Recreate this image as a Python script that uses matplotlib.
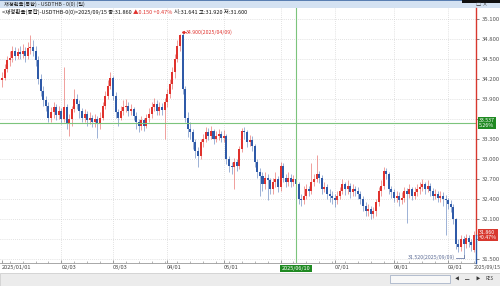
import numpy as np
import pandas as pd
import matplotlib
matplotlib.use('Agg')
from matplotlib import pyplot as plt
from matplotlib.patches import Rectangle

plt.rcParams['font.family'] = ['Noto Sans CJK KR', 'DejaVu Sans']

# ---- data (USD/THB daily) ----
first_open = 34.18
last_open = 31.641

closes = [34.22, 34.35, 34.48, 34.52, 34.62, 34.55, 34.60, 34.58, 34.62, 34.55,
          34.66, 34.68, 34.62, 34.48, 34.20, 34.02, 33.88, 33.80, 33.62, 33.70,
          33.78, 33.66, 33.72, 33.60, 33.78, 33.52, 33.60, 33.75, 33.90, 33.82,
          33.72, 33.62, 33.68, 33.58, 33.62, 33.55, 33.60, 33.52, 33.62, 33.80,
          33.95, 34.10, 34.22, 33.95, 33.70, 33.62, 33.72, 33.78, 33.80, 33.72,
          33.75, 33.65, 33.55, 33.50, 33.58, 33.50, 33.62, 33.68, 33.78, 33.82,
          33.72, 33.78, 33.74, 33.85, 33.98, 34.12, 34.30, 34.50, 34.70, 34.86,
          34.05, 33.62, 33.45, 33.40, 33.25, 33.12, 33.05, 33.25, 33.30, 33.40,
          33.35, 33.42, 33.30, 33.35, 33.38, 33.32, 33.35, 33.00, 32.90, 32.88,
          32.95, 32.90, 33.15, 33.42, 33.40, 33.25, 33.28, 33.20, 32.95, 32.80,
          32.75, 32.62, 32.72, 32.68, 32.55, 32.66, 32.70, 32.58, 32.90, 32.72,
          32.65, 32.72, 32.66, 32.70, 32.62, 32.40, 32.38, 32.45, 32.55, 32.52,
          32.65, 32.70, 32.78, 32.72, 32.55, 32.58, 32.48, 32.45, 32.42, 32.38,
          32.45, 32.52, 32.62, 32.55, 32.60, 32.50, 32.55, 32.52, 32.48, 32.40,
          32.30, 32.22, 32.25, 32.18, 32.22, 32.35, 32.52, 32.60, 32.82, 32.78,
          32.55, 32.50, 32.42, 32.45, 32.38, 32.42, 32.52, 32.48, 32.55, 32.45,
          32.50, 32.55, 32.58, 32.62, 32.55, 32.60, 32.52, 32.45, 32.48, 32.42,
          32.45, 32.40, 32.38, 32.32, 32.28, 32.10, 31.72, 31.68, 31.80, 31.72,
          31.82, 31.75, 31.71, 31.86]

highs = [34.30, 34.42, 34.55, 34.62, 34.70, 34.68, 34.66, 34.70, 34.72, 34.68,
         34.75, 34.86, 34.78, 34.70, 34.55, 34.28, 34.10, 33.95, 33.85, 33.78,
         33.86, 33.82, 33.80, 33.76, 34.38, 33.82, 33.68, 33.80, 34.05, 33.98,
         33.88, 33.76, 33.75, 33.72, 33.70, 33.66, 33.68, 33.65, 33.70, 33.86,
         34.02, 34.18, 34.30, 34.25, 34.00, 33.75, 33.80, 33.88, 33.90, 33.85,
         33.82, 33.78, 33.70, 33.60, 33.64, 33.62, 33.68, 33.76, 33.86, 33.92,
         33.88, 33.86, 33.84, 33.92, 34.05, 34.20, 34.38, 34.58, 34.78, 34.88,
         34.90, 34.10, 33.70, 33.55, 33.45, 33.30, 33.18, 33.30, 33.38, 33.48,
         33.46, 33.50, 33.45, 33.42, 33.45, 33.42, 33.43, 33.38, 33.05, 32.96,
         33.02, 33.00, 33.20, 33.46, 33.48, 33.44, 33.36, 33.34, 33.22, 33.00,
         32.86, 32.80, 32.80, 32.78, 32.72, 32.72, 32.80, 32.74, 32.95, 32.94,
         32.78, 32.80, 32.78, 32.76, 32.74, 32.66, 32.48, 32.60, 32.62, 32.60,
         32.94, 32.78, 33.06, 32.82, 32.76, 32.66, 32.62, 32.55, 32.52, 32.48,
         32.52, 32.58, 32.70, 32.66, 32.68, 32.64, 32.62, 32.60, 32.58, 32.52,
         32.44, 32.35, 32.32, 32.30, 32.28, 32.40, 32.58, 32.68, 32.88, 32.86,
         32.80, 32.60, 32.55, 32.52, 32.50, 32.50, 32.58, 32.56, 32.62, 32.58,
         32.58, 32.62, 32.66, 32.70, 32.66, 32.68, 32.64, 32.56, 32.55, 32.52,
         32.52, 32.50, 32.46, 32.42, 32.38, 32.32, 32.12, 31.80, 31.86, 31.84,
         31.88, 31.86, 31.80, 31.92]

lows = [34.08, 34.18, 34.30, 34.40, 34.45, 34.48, 34.50, 34.50, 34.52, 34.45,
        34.50, 34.58, 34.55, 34.40, 34.12, 33.95, 33.80, 33.72, 33.55, 33.55,
        33.62, 33.58, 33.60, 33.52, 33.55, 33.45, 33.35, 33.50, 33.70, 33.75,
        33.62, 33.55, 33.55, 33.50, 33.52, 33.48, 33.48, 33.32, 33.45, 33.58,
        33.75, 33.90, 34.05, 33.88, 33.62, 33.50, 33.58, 33.66, 33.70, 33.65,
        33.66, 33.58, 33.45, 33.40, 33.44, 33.42, 33.46, 33.55, 33.62, 33.72,
        33.66, 33.66, 33.66, 33.30, 33.78, 33.92, 34.05, 34.22, 34.45, 34.62,
        33.98, 33.55, 33.33, 33.30, 33.15, 33.02, 32.88, 33.00, 33.18, 33.25,
        33.28, 33.30, 33.22, 33.25, 33.28, 33.25, 33.26, 32.92, 32.80, 32.78,
        32.55, 32.82, 32.85, 33.10, 33.30, 33.18, 33.20, 33.12, 32.88, 32.72,
        32.45, 32.52, 32.55, 32.38, 32.48, 32.48, 32.58, 32.50, 32.52, 32.65,
        32.58, 32.60, 32.58, 32.60, 32.55, 32.32, 32.30, 32.32, 32.40, 32.45,
        32.48, 32.60, 32.65, 32.64, 32.48, 32.50, 32.40, 32.36, 32.32, 32.28,
        32.32, 32.40, 32.48, 32.46, 32.48, 32.42, 32.44, 32.45, 32.40, 32.32,
        32.22, 32.15, 32.15, 32.10, 32.12, 32.15, 32.30, 32.45, 32.55, 32.70,
        32.48, 32.42, 32.35, 32.36, 32.30, 32.32, 32.36, 32.04, 32.42, 32.38,
        32.40, 32.45, 32.48, 32.52, 32.48, 32.50, 32.45, 32.38, 32.40, 32.35,
        32.36, 32.30, 31.86, 32.25, 32.20, 32.02, 31.65, 31.60, 31.62, 31.52,
        31.66, 31.68, 31.62, 31.60]

n = len(closes)
dates = pd.bdate_range('2025-01-01', periods=n)
opens = [first_open] + closes[:-1]
opens[-1] = last_open

# '06/02' sits under the crosshair date box, as in the original
month_labels = ['2025/01/01', '02/03', '03/03', '04/01', '05/01', '',
                '07/01', '08/01', '09/01']
y_ticks = [31.5, 31.8, 32.1, 32.4, 32.7, 33.0, 33.3, 33.6, 33.9, 34.2, 34.5, 34.8, 35.1]

cross_price = 33.537
cross_date = '2025/06/10'
peak_date = '2025/04/09'
low_date = '2025/09/09'

UP = '#e0322d'
DN = '#2f5aa8'

W, H = 500, 286
fig = plt.figure(figsize=(5.0, 2.86), dpi=100)
fig.patch.set_facecolor('white')

def fx(px):
    return px / W

def fy(py):
    return 1 - py / H

ax = fig.add_axes([fx(0), fy(263), fx(476), (263 - 8) / H])
ax.set_facecolor('white')

idx = np.arange(n)
o = np.array(opens)
c = np.array(closes)
hi = np.array(highs)
lo = np.array(lows)
up = c >= o
cols = np.where(up, UP, DN)

ax.vlines(idx, lo, hi, colors=cols, linewidth=0.6, alpha=0.55, zorder=2)
body_lo = np.minimum(o, c)
body_h = np.maximum(np.abs(c - o), 0.012)
ax.bar(idx, body_h, bottom=body_lo, width=0.78, color=cols, linewidth=0, zorder=3)

ax.set_xlim(-0.8, n - 0.2)
ax.set_ylim(31.44, 35.265)

# grid
for yv in y_ticks:
    ax.axhline(yv, color='#c8c8c8', linewidth=0.5, linestyle=(0, (1, 2)), zorder=0)
month_pos = []
for m in range(1, 10):
    pos = np.where(dates.month == m)[0][0]
    month_pos.append(pos)
for p in month_pos[1:]:
    ax.axvline(p, color='#c8c8c8', linewidth=0.5, linestyle=(0, (1, 2)), zorder=0)

for s in ['left', 'top', 'right']:
    ax.spines[s].set_visible(False)
ax.spines['bottom'].set_color('#9a9a9a')
ax.spines['bottom'].set_linewidth(0.6)
# right edge: red above the last price, blue below
yt = ax.get_yaxis_transform()
ax.plot([1, 1], [closes[-1], 35.265], transform=yt, color='#d8382e', linewidth=1.0,
        clip_on=False, zorder=5)
ax.plot([1, 1], [31.44, closes[-1]], transform=yt, color='#2f5aa8', linewidth=1.0,
        clip_on=False, zorder=5)

# labels hidden under the price boxes are left blank
ylabels = ['%.3f' % v for v in y_ticks]
ylabels[y_ticks.index(33.6)] = ''
ylabels[y_ticks.index(31.8)] = ''
ax.yaxis.tick_right()
ax.set_yticks(y_ticks)
ax.set_yticklabels(ylabels, fontsize=4.3, color='#333333')
ax.tick_params(axis='y', length=2, width=0.5, pad=2, colors='#555555')

ax.set_xticks(month_pos)
ax.set_xticklabels(month_labels, fontsize=4.1, color='#444444', ha='left')
ax.set_xticks(np.where(dates.dayofweek == 0)[0], minor=True)
ax.tick_params(axis='x', which='major', length=2.5, width=0.5, pad=1.5, colors='#777777', direction='in')
ax.tick_params(axis='x', which='minor', length=1.5, width=0.5, colors='#999999', direction='in')
for lbl in ax.get_xticklabels():
    lbl.set_color('#444444')

# crosshair
cross_i = int(np.where(dates == pd.Timestamp(cross_date))[0][0])
ax.axhline(cross_price, color='#7cc47c', linewidth=0.8, zorder=4)
ax.axvline(cross_i, color='#7cc47c', linewidth=0.8, zorder=4)
pct = (cross_price - closes[-1]) / closes[-1] * 100
ax.text(1.006, cross_price, '%.3f\n%.2f%%' % (cross_price, pct), transform=yt,
        fontsize=3.8, color='white', va='center', ha='left', linespacing=0.95,
        bbox=dict(boxstyle='square,pad=0.25', fc='#1f8a22', ec='none'), zorder=6, clip_on=False)
chg = closes[-1] - closes[-2]
ax.text(1.006, closes[-1], '%.3f\n+%.2f%%' % (closes[-1], chg / closes[-2] * 100),
        transform=yt, fontsize=3.8, color='white', va='center', ha='left',
        linespacing=0.95, bbox=dict(boxstyle='square,pad=0.25', fc='#d8382e', ec='none'),
        zorder=6, clip_on=False)
ax.text(cross_i, -0.012, cross_date, transform=ax.get_xaxis_transform(), fontsize=4.0,
        color='white', ha='center', va='top',
        bbox=dict(boxstyle='square,pad=0.25', fc='#1f8a22', ec='none'), zorder=6, clip_on=False)

# peak / low markers
pk = int(np.argmax(hi))
ax.plot([pk, pk + 1.2], [hi[pk], hi[pk]], color=UP, linewidth=0.6, zorder=5)
ax.plot([pk], [hi[pk]], marker='<', markersize=1.5, color=UP, zorder=5)
ax.text(pk + 1.4, hi[pk], '%.3f(%s)' % (hi[pk], peak_date), fontsize=3.8, color=UP,
        va='center', ha='left', zorder=5)
lw_i = int(np.argmin(lo))
ax.plot([lw_i - 3, lw_i], [lo[lw_i], lo[lw_i]], color='#6f7fa8', linewidth=0.6, zorder=5)
ax.plot([lw_i, lw_i], [lo[lw_i], lo[lw_i] + 0.04], color='#6f7fa8', linewidth=0.6, zorder=5)
ax.text(lw_i - 3.3, lo[lw_i], '%.3f(%s)' % (lo[lw_i], low_date), fontsize=3.8, color='#5a6a94',
        va='center', ha='right', zorder=5)

# window title bar
fig.add_artist(Rectangle((0, fy(8)), 1, 8 / H, transform=fig.transFigure,
                         fc='#d4e2f2', ec='none', zorder=0))
fig.add_artist(Rectangle((0, fy(1)), 1, 1 / H, transform=fig.transFigure,
                         fc='#5a7fb2', ec='none', zorder=1))
fig.add_artist(Rectangle((fx(462), fy(3)), fx(38), 3 / H, transform=fig.transFigure,
                         fc='#111111', ec='none', zorder=1))
fig.text(fx(4), fy(4.5), '재정환율(통합) - USDTHB - 0(0) (일)', fontsize=3.8, color='#222222',
         va='center', ha='left')
fig.text(fx(476), fy(4.5), '□ ×', fontsize=3.8, color='#333333', va='center', ha='left')

# info line
hdr = '<재정환율(통합)-USDTHB-0(0)>%s 종:%.3f ' % (dates[-1].strftime('%Y/%m/%d'), closes[-1])
t1 = fig.text(fx(2), fy(12), hdr, fontsize=4.0, color='#111111', va='center', ha='left')
fig.canvas.draw()
bb = t1.get_window_extent()
t2 = fig.text(bb.x1 / W, fy(12), '▲%.3f +%.2f%% ' % (chg, chg / closes[-2] * 100),
              fontsize=4.0, color=UP, va='center', ha='left')
bb2 = t2.get_window_extent()
fig.text(bb2.x1 / W, fy(12), '시:%.3f 고:%.3f 저:%.3f' % (opens[-1], highs[-1], lows[-1]),
         fontsize=4.0, color='#111111', va='center', ha='left')

# last date label + bottom scroll bar
fig.text(fx(474), fy(268), dates[-1].strftime('%Y/%m/%d'), fontsize=3.7, color='#444444',
         va='center', ha='left')
fig.add_artist(Rectangle((0, 0), 1, 13 / H, transform=fig.transFigure,
                         fc='#ececec', ec='#c8c8c8', lw=0.5, zorder=0))
fig.add_artist(Rectangle((fx(390), fy(283)), fx(60), 8 / H, transform=fig.transFigure,
                         fc='#f8f8f8', ec='#9aa8c0', lw=0.5, zorder=1))
for k, s in enumerate(['◀', '─', '▶', 'RES']):
    fig.text(fx(455 + k * 10), fy(279), s, fontsize=3.2, color='#333333', va='center', ha='left')

fig.savefig('out.png', dpi=100, facecolor='white')
